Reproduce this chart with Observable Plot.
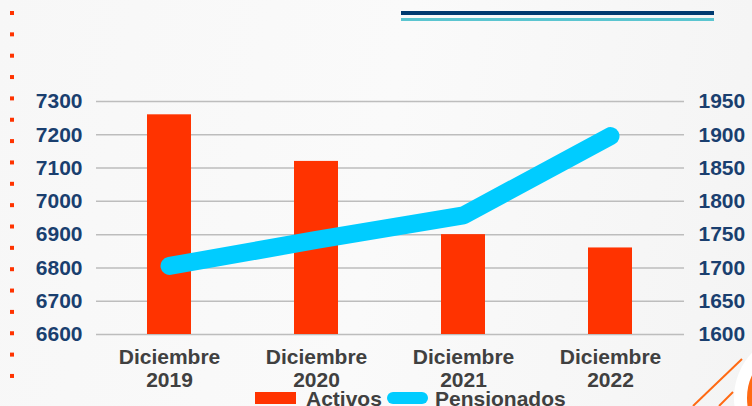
<!DOCTYPE html>
<html>
<head>
<meta charset="utf-8">
<script src="https://cdn.jsdelivr.net/npm/d3@7"></script>
<script src="https://cdn.jsdelivr.net/npm/@observablehq/plot@0.6"></script>
<style>
  html, body { margin: 0; padding: 0; background: #f8f8f8; }
  #wrap { position: relative; width: 752px; height: 406px; overflow: hidden;
          background: linear-gradient(100deg, #f7f7f7 0%, #fafafa 50%, #f4f4f4 100%);
          font-family: "Liberation Sans", Arial, sans-serif; }
  #chart { position: absolute; left: 0; top: 0; }
  .leg { position: absolute; font-size: 21px; font-weight: bold; color: #404040; line-height: 21px; white-space: nowrap; }
  .sw { position: absolute; }
  #deco { position: absolute; left: 0; top: 0; }
</style>
</head>
<body>
<div id="wrap">
  <svg id="deco" width="752" height="406">
    <g fill="#ff3300">
    </g>
    <rect x="401" y="11" width="313" height="4" fill="#003a70"></rect>
    <rect x="401" y="18" width="313" height="3" fill="#5bc5d0"></rect>
    <circle cx="800" cy="398" r="66" fill="#ffffff"></circle>
    <circle cx="800" cy="398" r="47" fill="none" stroke="#ff6a13" stroke-width="12"></circle>
    <line x1="742" y1="359" x2="693" y2="406" stroke="#ff6a13" stroke-width="2"></line>
    <line x1="733" y1="392" x2="719" y2="406" stroke="#ff6a13" stroke-width="2"></line>
  </svg>
  <div id="chart"></div>
  <div class="sw" style="left:255px;top:392px;width:41px;height:12px;background:#ff3300"></div>
  <div class="leg" style="left:306px;top:388px">Activos</div>
  <div class="sw" style="left:387px;top:392px;width:41px;height:12px;background:#00ccff;border-radius:6px"></div>
  <div class="leg" style="left:435px;top:388px">Pensionados</div>
</div>
<script>
const categories = ["Diciembre 2019", "Diciembre 2020", "Diciembre 2021", "Diciembre 2022"];
const activos = [7260, 7120, 6900, 6860];
const pensionados = [1703, 1742, 1779, 1898];
const leftTicks = [6600, 6700, 6800, 6900, 7000, 7100, 7200, 7300];
const rightTicks = [1600, 1650, 1700, 1750, 1800, 1850, 1900, 1950];

// right axis (1600..1950) mapped onto left axis (6600..7300)
const toLeft = v => 6600 + (v - 1600) * 2;
const fromLeft = v => Math.round(1600 + (v - 6600) / 2);

const data = categories.map((c, i) => ({cat: c, activos: activos[i], pens: pensionados[i]}));

// red dotted decoration on the left edge
const deco = document.querySelector("#deco g");
for (let y = 11; y < 380; y += 21.35) {
  const r = document.createElementNS("http://www.w3.org/2000/svg", "rect");
  r.setAttribute("x", 10); r.setAttribute("y", y); r.setAttribute("width", 4); r.setAttribute("height", 4);
  deco.appendChild(r);
}

const tickStyle = {fontSize: 21, fontWeight: "bold", fill: "#1a3f6f"};

const chart = Plot.plot({
  width: 752,
  height: 406,
  marginTop: 101,
  marginBottom: 72,
  marginLeft: 96,
  marginRight: 68,
  style: {background: "transparent", fontFamily: "'Liberation Sans', Arial, sans-serif", overflow: "visible"},
  x: {domain: categories, paddingInner: 0.7, paddingOuter: 0.35},
  y: {domain: [6600, 7300]},
  marks: [
    Plot.ruleY(leftTicks, {stroke: "#bdbdbd", strokeWidth: 1.5}),
    Plot.barY(data, {x: "cat", y1: 6600, y2: "activos", fill: "#ff3300"}),
    Plot.line(data, {x: "cat", y: d => toLeft(d.pens), stroke: "#00ccff", strokeWidth: 18,
                     strokeLinecap: "round", strokeLinejoin: "miter"}),
    Plot.axisX({tickSize: 0, tickPadding: 13, fontSize: 21, fontWeight: "bold", fill: "#404040",
                lineHeight: 1.1, label: null, tickFormat: d => d.replace(" ", "\n")}),
    Plot.axisY({anchor: "left", ticks: leftTicks, tickSize: 0, tickPadding: 14, label: null,
                tickFormat: d => String(d), ...tickStyle}),
    Plot.axisY({anchor: "right", ticks: rightTicks.map(toLeft), tickSize: 0, tickPadding: 14, label: null,
                tickFormat: v => String(fromLeft(v)), ...tickStyle})
  ]
});
document.getElementById("chart").appendChild(chart);
</script>
</body>
</html>
